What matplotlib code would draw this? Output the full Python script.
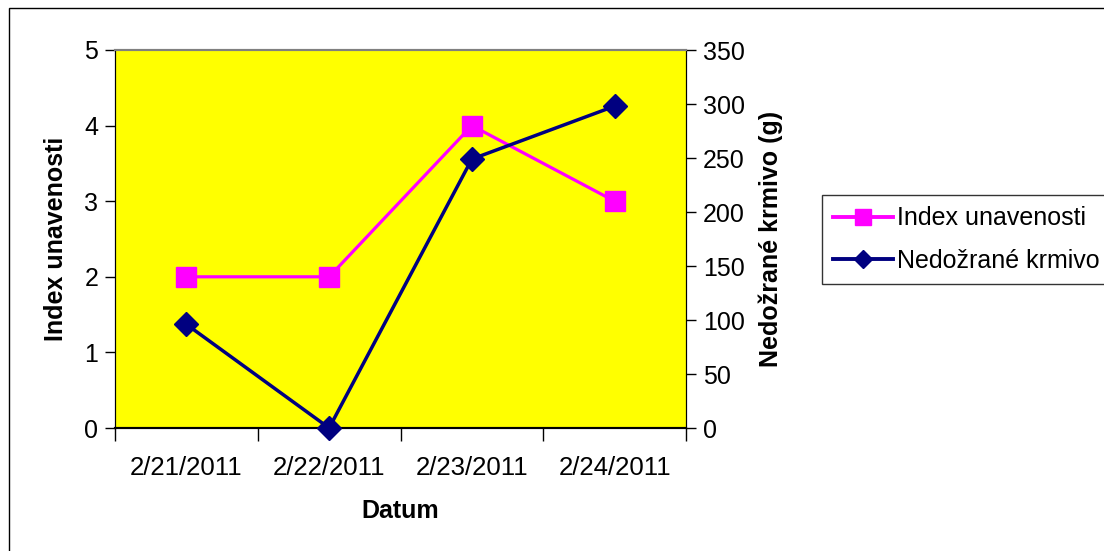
import matplotlib
matplotlib.use("Agg")
import matplotlib.pyplot as plt
from matplotlib.patches import Rectangle
from matplotlib.lines import Line2D

plt.rcParams['font.family'] = ['Liberation Sans', 'DejaVu Sans']

categories = ["2/21/2011", "2/22/2011", "2/23/2011", "2/24/2011"]
index_unavenosti = [2, 2, 4, 3]
nedozrane_krmivo = [96, 0, 249, 298]

W, H = 1104, 551
fig = plt.figure(figsize=(W / 100, H / 100), dpi=100)
fig.patch.set_facecolor('white')

# outer chart frame (right and bottom edges lie outside the image)
fig.patches.append(Rectangle((9 / W, -1), 2, 2 - 8 / H, transform=fig.transFigure,
                             fill=False, edgecolor='black', linewidth=1.0, clip_on=False))

left, right, top, bottom = 115, 686, 50, 428
ax = fig.add_axes([left / W, 1 - bottom / H, (right - left) / W, (bottom - top) / H])
ax.set_facecolor('#FFFF00')
ax2 = ax.twinx()

x = list(range(len(categories)))
ax.plot(x, index_unavenosti, color='#FF00FF', linewidth=2.3, marker='s',
        markersize=14, markeredgecolor='#FF00FF', zorder=3, clip_on=False)
ax2.plot(x, nedozrane_krmivo, color='#000080', linewidth=2.5, marker='D',
         markersize=12, markeredgecolor='#000080', zorder=3, clip_on=False)

ax.set_xlim(-0.5, len(categories) - 0.5)
ax.set_ylim(0, 5)
ax2.set_ylim(0, 350)
ax.set_yticks(range(0, 6))
ax2.set_yticks(range(0, 351, 50))

ax.set_xticks(x)
ax.set_xticklabels(categories, fontsize=18.5)
ax.tick_params(axis='x', which='major', length=0, pad=20)
ax.set_xticks([i - 0.5 for i in range(len(categories) + 1)], minor=True)
ax.tick_params(axis='x', which='minor', length=9, width=1, direction='out', color='black')

ax.tick_params(axis='y', length=7, width=1, direction='out', labelsize=18, pad=5)
ax2.tick_params(axis='y', length=7, width=1, direction='out', labelsize=18, pad=5)

for a in (ax, ax2):
    a.spines['top'].set_color('#808080')
    a.spines['top'].set_linewidth(1.5)
    a.spines['left'].set_color('black')
    a.spines['right'].set_color('black')
    a.spines['bottom'].set_color('black')
    a.spines['bottom'].set_linewidth(1.5)

ax.set_xlabel('Datum', fontsize=18, fontweight='bold', labelpad=14)
ax.set_ylabel('Index unavenosti', fontsize=18, fontweight='bold', labelpad=12)
ax2.set_ylabel('Nedožrané krmivo (g)', fontsize=18, fontweight='bold', labelpad=10)

handles = [
    Line2D([], [], color='#FF00FF', linewidth=2.8, marker='s', markersize=11),
    Line2D([], [], color='#000080', linewidth=2.8, marker='D', markersize=9),
]
leg = fig.legend(handles, ['Index unavenosti', 'Nedožrané krmivo'],
                 loc='upper left', bbox_to_anchor=(822 / W, 1 - 195 / H),
                 bbox_transform=fig.transFigure, fontsize=18, frameon=True,
                 fancybox=False, edgecolor='black', handlelength=2.4,
                 handletextpad=0.15, borderpad=0.45, labelspacing=0.75,
                 borderaxespad=0)
leg.get_frame().set_linewidth(1.0)

fig.savefig('out.png', dpi=100, facecolor='white')
